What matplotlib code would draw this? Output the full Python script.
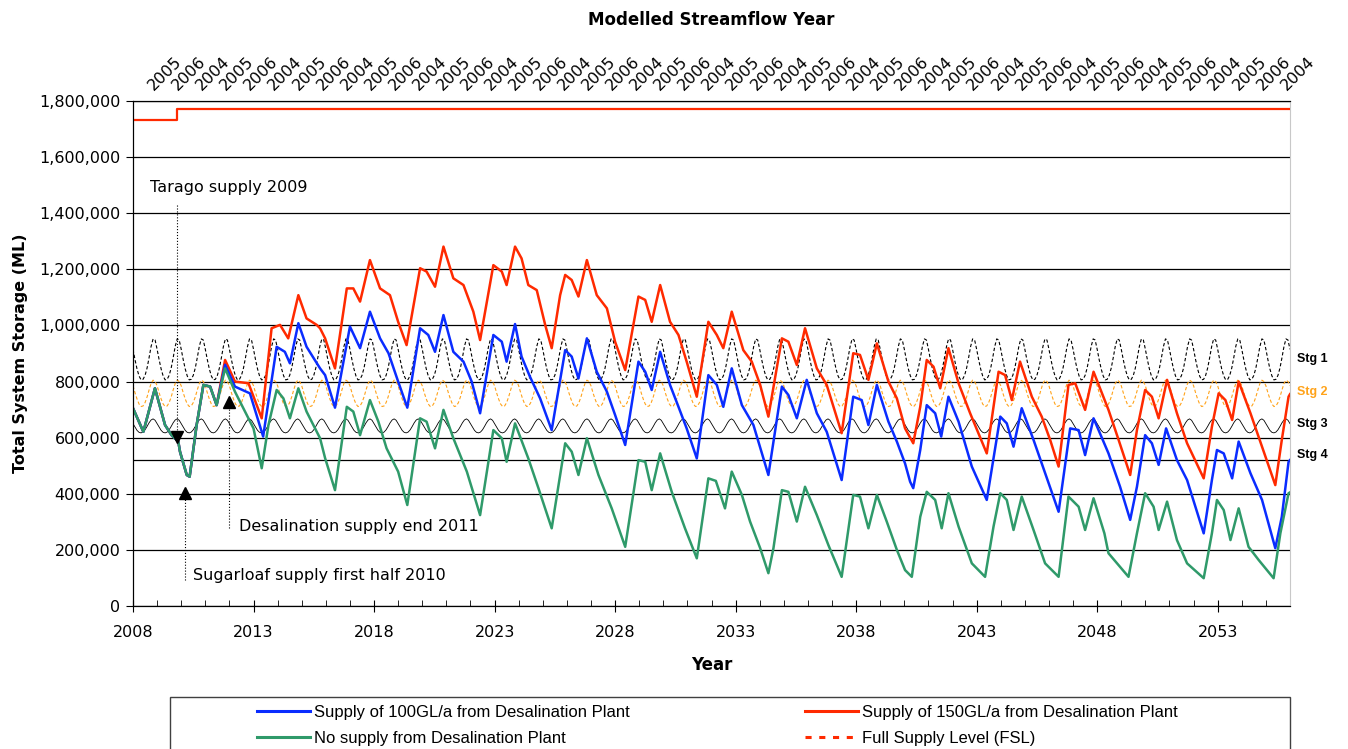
import numpy as np
import matplotlib
matplotlib.use("Agg")
import matplotlib.pyplot as plt
from matplotlib.lines import Line2D
from matplotlib.patches import Rectangle
from matplotlib.ticker import FuncFormatter, MultipleLocator, FixedLocator

plt.rcParams['font.family'] = ['DejaVu Sans']

# storage values in thousand ML
# common part before the desalination plant comes in
early_years = [2008.0, 2008.43, 2008.91, 2009.33, 2009.6, 2009.88, 2009.95, 2010.23,
               2010.35, 2010.64, 2010.92, 2011.2, 2011.47]
early_vals = [705, 621, 776, 645, 609, 586, 550, 467, 461, 645, 788, 782, 716]

green_years = [2011.82, 2012.23, 2012.65, 2013.0, 2013.34, 2013.62, 2013.96, 2014.24, 2014.51,
               2014.86, 2015.2, 2015.76, 2015.97, 2016.38, 2016.87, 2017.14, 2017.42, 2017.83,
               2018.18, 2018.52, 2019.0, 2019.38, 2019.91, 2020.18, 2020.53, 2020.88, 2021.29,
               2021.85, 2022.4, 2022.95, 2023.3, 2023.5, 2023.85, 2024.4, 2024.82, 2025.37,
               2025.93, 2026.2, 2026.48, 2026.83, 2027.31, 2027.86, 2028.42, 2028.97, 2029.25,
               2029.52, 2029.87, 2030.35, 2030.9, 2031.39, 2031.87, 2032.18, 2032.56, 2032.84,
               2033.26, 2033.6, 2034.02, 2034.36, 2034.57, 2034.92, 2035.19, 2035.54, 2035.88,
               2036.37, 2036.85, 2037.4, 2037.88, 2038.16, 2038.51, 2038.86, 2039.27, 2039.69,
               2040.03, 2040.31, 2040.66, 2040.93, 2041.28, 2041.55, 2041.83, 2042.25, 2042.8,
               2043.35, 2043.7, 2043.98, 2044.25, 2044.53, 2044.87, 2045.36, 2045.84, 2046.4,
               2046.81, 2047.23, 2047.5, 2047.85, 2048.3, 2048.47, 2049.3, 2049.65, 2049.99,
               2050.34, 2050.55, 2050.9, 2051.31, 2051.73, 2052.42, 2052.76, 2052.97, 2053.25,
               2053.53, 2053.87, 2054.28, 2054.7, 2055.32, 2055.6, 2055.94, 2056.0]
green_vals = [847, 764, 693, 633, 491, 645, 770, 740, 669,
              776, 693, 598, 527, 413, 710, 693, 609, 734,
              657, 562, 479, 360, 669, 657, 562, 699, 598,
              479, 324, 627, 598, 514, 651, 526, 420, 277,
              580, 550, 467, 598, 467, 348, 211, 520, 514,
              413, 544, 407, 277, 170, 455, 446, 348, 479,
              396, 301, 206, 117, 206, 413, 407, 301, 425,
              324, 217, 104, 396, 390, 277, 396, 301, 200,
              128, 104, 318, 407, 378, 277, 402, 283, 152,
              104, 283, 402, 378, 271, 390, 271, 152, 104,
              390, 354, 271, 384, 259, 188, 104, 259, 402,
              354, 271, 372, 235, 152, 99, 259, 378, 342,
              235, 348, 211, 164, 99, 259, 402, 405]

blue_years = [2011.82, 2012.23, 2012.85, 2013.4, 2013.96, 2014.3, 2014.51, 2014.86, 2015.2,
              2015.76, 2015.97, 2016.38, 2017.0, 2017.42, 2017.83, 2018.25, 2018.6, 2019.0,
              2019.38, 2019.91, 2020.25, 2020.53, 2020.88, 2021.29, 2021.71, 2022.05, 2022.4,
              2022.95, 2023.3, 2023.5, 2023.85, 2024.12, 2024.47, 2024.89, 2025.37, 2025.93,
              2026.2, 2026.48, 2026.83, 2027.24, 2027.66, 2028.0, 2028.42, 2028.97, 2029.25,
              2029.52, 2029.87, 2030.28, 2030.63, 2030.97, 2031.39, 2031.87, 2032.22, 2032.49,
              2032.84, 2033.26, 2033.74, 2034.36, 2034.92, 2035.19, 2035.54, 2035.95, 2036.37,
              2036.78, 2037.4, 2037.88, 2038.23, 2038.51, 2038.86, 2039.34, 2039.69, 2040.03,
              2040.24, 2040.37, 2040.66, 2040.93, 2041.28, 2041.53, 2041.83, 2042.25, 2042.8,
              2043.42, 2043.98, 2044.25, 2044.53, 2044.87, 2045.36, 2045.7, 2046.4, 2046.88,
              2047.23, 2047.5, 2047.85, 2048.47, 2048.95, 2049.37, 2049.65, 2049.99, 2050.27,
              2050.55, 2050.86, 2051.31, 2051.73, 2052.42, 2052.76, 2052.97, 2053.25, 2053.6,
              2053.87, 2054.36, 2054.84, 2055.39, 2055.66, 2055.94, 2056.0]
blue_vals = [860, 782, 758, 604, 924, 906, 865, 1008, 924,
             847, 823, 707, 996, 919, 1049, 954, 901, 800,
             707, 990, 966, 906, 1037, 906, 871, 800, 687,
             966, 942, 871, 1005, 889, 817, 740, 627, 912,
             889, 811, 954, 835, 764, 681, 574, 871, 835,
             770, 906, 788, 710, 633, 526, 823, 788, 710,
             847, 716, 645, 467, 782, 752, 669, 806, 687,
             621, 449, 746, 734, 645, 788, 657, 586, 508,
             443, 420, 556, 716, 687, 604, 746, 657, 497,
             378, 675, 651, 568, 705, 592, 508, 336, 633,
             627, 538, 669, 544, 425, 307, 425, 609, 580,
             503, 633, 520, 449, 259, 449, 556, 544, 455,
             586, 473, 378, 206, 318, 514, 520]

red_years = [2011.82, 2012.23, 2012.79, 2013.34, 2013.75, 2014.1, 2014.44, 2014.86, 2015.2,
             2015.62, 2015.76, 2015.97, 2016.38, 2016.87, 2017.14, 2017.42, 2017.83, 2018.25,
             2018.66, 2019.0, 2019.35, 2019.91, 2020.18, 2020.53, 2020.88, 2021.29, 2021.71,
             2022.12, 2022.4, 2022.95, 2023.3, 2023.5, 2023.85, 2024.12, 2024.4, 2024.75,
             2025.1, 2025.37, 2025.72, 2025.93, 2026.2, 2026.48, 2026.83, 2027.24, 2027.66,
             2028.0, 2028.42, 2028.97, 2029.25, 2029.52, 2029.87, 2030.28, 2030.63, 2030.97,
             2031.39, 2031.87, 2032.22, 2032.49, 2032.84, 2033.32, 2033.67, 2034.02, 2034.36,
             2034.92, 2035.19, 2035.54, 2035.88, 2036.37, 2036.78, 2037.4, 2037.88, 2038.16,
             2038.51, 2038.86, 2039.34, 2039.69, 2040.03, 2040.37, 2040.66, 2040.93, 2041.21,
             2041.49, 2041.83, 2042.25, 2042.73, 2043.42, 2043.91, 2044.18, 2044.46, 2044.8,
             2045.29, 2045.7, 2046.05, 2046.4, 2046.81, 2047.09, 2047.5, 2047.85, 2048.47,
             2048.89, 2049.37, 2049.65, 2049.99, 2050.27, 2050.55, 2050.9, 2051.31, 2051.73,
             2052.42, 2052.76, 2053.04, 2053.32, 2053.6, 2053.87, 2054.36, 2054.84, 2055.39,
             2055.66, 2055.94, 2056.0]
red_vals = [877, 800, 794, 669, 990, 1002, 954, 1108, 1025,
            1002, 990, 954, 847, 1132, 1132, 1085, 1233, 1132,
            1108, 1013, 930, 1204, 1192, 1138, 1281, 1168, 1144,
            1049, 948, 1215, 1192, 1144, 1281, 1239, 1144, 1126,
            1002, 919, 1108, 1180, 1162, 1103, 1233, 1108, 1061,
            942, 841, 1103, 1091, 1013, 1144, 1013, 966, 871,
            746, 1013, 966, 919, 1049, 912, 871, 788, 675,
            954, 942, 859, 990, 847, 788, 616, 901, 895,
            806, 936, 800, 740, 633, 580, 710, 877, 853,
            776, 919, 794, 687, 544, 835, 823, 734, 871,
            746, 675, 592, 497, 788, 794, 699, 835, 699,
            592, 467, 627, 770, 746, 669, 806, 687, 580,
            455, 639, 758, 734, 663, 800, 687, 568, 431,
            592, 746, 755]

# full supply level (step in late 2009)
fsl_years = [2008.0, 2009.83, 2009.83, 2056.0]
fsl_vals = [1732, 1732, 1772, 1772]

# restriction trigger curves, one value per month (same every year)
stg1_month = [915, 878, 845, 820, 806, 808, 822, 848, 885, 925, 952, 948]
stg2_month = [785, 760, 738, 720, 711, 713, 725, 745, 770, 793, 805, 800]
stg3_month = [650, 638, 626, 619, 617, 620, 628, 640, 653, 663, 667, 662]
stg4_level = 520

top_labels = ['2005', '2006', '2004'] * 16

n_years = 48
months = 2008 + np.arange(n_years * 12 + 1) / 12.0

def monthly(pattern):
    return np.append(np.tile(pattern, n_years), pattern[0]) * 1000

red_c = '#ff2a00'
blue_c = '#0a2cff'
green_c = '#2f9a6a'
orange_c = '#ffa31a'

fig = plt.figure(figsize=(13.48, 7.49), dpi=100)
ax = fig.add_axes([133 / 1348, 1 - 606 / 749, 1157 / 1348, 505 / 749])

ax.yaxis.grid(True, color='black', lw=0.9)
ax.set_axisbelow(True)
ax.axhline(stg4_level * 1000, color='black', lw=0.9, zorder=1)

ax.plot(months, monthly(stg1_month), color='black', lw=0.8, ls=(0, (3, 2)), zorder=2)
ax.plot(months, monthly(stg2_month), color=orange_c, lw=0.8, ls=(0, (3, 2)), zorder=2)
ax.plot(months, monthly(stg3_month), color='black', lw=0.6, zorder=2)

ax.plot(fsl_years, np.array(fsl_vals) * 1000, color=red_c, lw=1.6, zorder=3)
ax.plot(early_years + red_years, np.array(early_vals + red_vals) * 1000, color=red_c, lw=1.8, zorder=3)
ax.plot(early_years + blue_years, np.array(early_vals + blue_vals) * 1000, color=blue_c, lw=1.8, zorder=4)
ax.plot(early_years + green_years, np.array(early_vals + green_vals) * 1000, color=green_c, lw=1.8, zorder=5)

# annotations
ax.text(2008.7, 1493000, 'Tarago supply 2009', fontsize=11.5, va='center', ha='left')
ax.plot([2009.83, 2009.83], [1429000, 620000], color='black', lw=0.8, ls=':', zorder=6)
ax.plot(2009.83, 602000, marker='v', color='black', ms=9, zorder=6)

ax.text(2010.5, 110000, 'Sugarloaf supply first half 2010', fontsize=11.5, va='center', ha='left')
ax.plot([2010.16, 2010.16], [93000, 385000], color='black', lw=0.8, ls=':', zorder=6)
ax.plot(2010.16, 403000, marker='^', color='black', ms=9, zorder=6)

ax.text(2012.4, 282000, 'Desalination supply end 2011', fontsize=11.5, va='center', ha='left')
ax.plot([2011.98, 2011.98], [278000, 710000], color='black', lw=0.8, ls=':', zorder=6)
ax.plot(2011.98, 727000, marker='^', color='black', ms=9, zorder=6)

# stage labels on the right
for lab, yv, col in [('Stg 1', 880, 'black'), ('Stg 2', 763, orange_c),
                     ('Stg 3', 649, 'black'), ('Stg 4', 538, 'black')]:
    ax.text(2056.3, yv * 1000, lab, fontsize=9, fontweight='bold', color=col,
            family='Liberation Sans', va='center', ha='left', clip_on=False)

ax.set_xlim(2008, 2056)
ax.set_ylim(0, 1800000)
ax.xaxis.set_major_locator(FixedLocator(np.arange(2008, 2057, 5)))
ax.xaxis.set_minor_locator(MultipleLocator(1))
ax.yaxis.set_major_locator(MultipleLocator(200000))
ax.yaxis.set_major_formatter(FuncFormatter(lambda v, p: f'{int(v):,}'))
ax.tick_params(axis='x', which='major', direction='inout', length=9, labelsize=11.5, pad=9)
ax.tick_params(axis='x', which='minor', direction='in', length=4)
ax.tick_params(axis='y', which='major', direction='out', length=5, labelsize=11.5, pad=4)
ax.spines['right'].set_color('#c8c8c8')
ax.set_xlabel('Year', fontsize=12, fontweight='bold', labelpad=12)
ax.set_ylabel('Total System Storage (ML)', fontsize=11.5, fontweight='bold', labelpad=8)

# top axis: modelled streamflow year
ax2 = ax.twiny()
ax2.set_xlim(ax.get_xlim())
ax2.set_xticks(2008.95 + np.arange(len(top_labels)))
ax2.set_xticklabels(top_labels, rotation=45, ha='left', va='bottom',
                    rotation_mode='anchor', fontsize=11.5)
ax2.tick_params(axis='x', length=0, pad=6)
ax2.spines['right'].set_visible(False)
fig.text(711 / 1348, 1 - 20 / 749, 'Modelled Streamflow Year', fontsize=12,
         fontweight='bold', ha='center', va='center')

# legend box (cut at the bottom like the original)
fig.add_artist(Rectangle((170 / 1348, -0.05), 1120 / 1348, (749 - 697) / 749 + 0.05,
                         transform=fig.transFigure, fill=False, edgecolor='#404040', lw=1))
leg_font = {'family': 'Liberation Sans', 'size': 12}
h1 = [Line2D([], [], color=blue_c, lw=2.2), Line2D([], [], color=green_c, lw=2.2)]
h2 = [Line2D([], [], color=red_c, lw=2.2), Line2D([], [], color=red_c, lw=2.2, ls=(0, (2, 2.5)))]
fig.legend(h1, ['Supply of 100GL/a from Desalination Plant', 'No supply from Desalination Plant'],
           loc='upper left', bbox_to_anchor=(257 / 1348, 1 - 705 / 749), frameon=False,
           borderpad=0, borderaxespad=0, handlelength=3.2, handletextpad=0.2,
           labelspacing=0.65, prop=leg_font)
fig.legend(h2, ['Supply of 150GL/a from Desalination Plant', 'Full Supply Level (FSL)'],
           loc='upper left', bbox_to_anchor=(805 / 1348, 1 - 705 / 749), frameon=False,
           borderpad=0, borderaxespad=0, handlelength=3.2, handletextpad=0.2,
           labelspacing=0.65, prop=leg_font)

fig.savefig('out.png', dpi=100)
